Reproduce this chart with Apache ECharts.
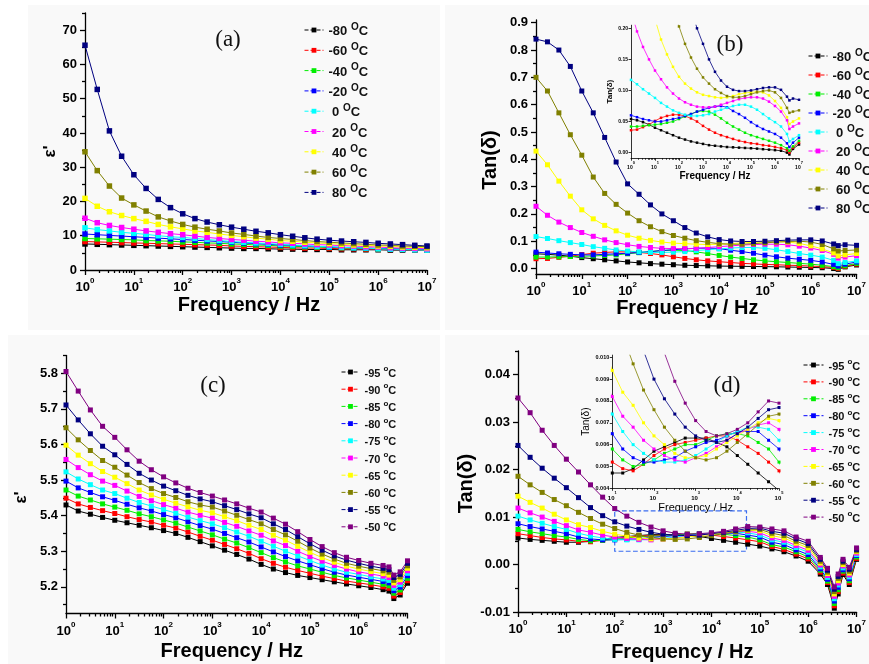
<!DOCTYPE html>
<html><head><meta charset="utf-8">
<script src="https://cdn.jsdelivr.net/npm/echarts@6/dist/echarts.min.js"></script>
<style>html,body{margin:0;padding:0;background:#fff}#c{width:869px;height:664px}</style>
</head><body><div id="c"></div>
<script>
// ---------- frequencies (Hz) ----------
const FREQ_A = [1,1.78,3.16,5.62,10,17.8,31.6,56.2,100,178,316,562,1000,1780,3160,5620,10000,17800,31600,56200,100000,178000,316000,562000,1000000,1780000,3160000,5620000,10000000];
const FREQ_B = [1,1.78,3.16,5.62,10,17.8,31.6,56.2,100,178,316,562,1000,1780,3160,5620,10000,17800,31600,56200,100000,178000,316000,562000,1000000,1780000,3160000,3980000,5620000,10000000];
const FREQ_C = [1,1.78,3.16,5.62,10,17.8,31.6,56.2,100,178,316,562,1000,1780,3160,5620,10000,17800,31600,56200,100000,178000,316000,562000,1000000,1780000,3160000,4170000,5250000,7080000,10000000];
const FREQ_D = [1,1.78,3.16,5.62,10,17.8,31.6,56.2,100,178,316,562,1000,1780,3160,5620,10000,17800,31600,56200,100000,178000,316000,562000,1000000,1780000,2510000,3470000,4170000,5250000,7080000,10000000];

// ---------- legends / colours ----------
const TEMPS_AB = ['-80','-60','-40','-20','0','20','40','60','80'];
const TEMPS_CD = ['-95','-90','-85','-80','-75','-70','-65','-60','-55','-50'];
const COLORS = ['#000000','#ff0000','#00ee00','#0000ff','#00ffff','#ff00ff','#ffff00','#808000','#000080','#800080'];

// ---------- panel (a): epsilon' ----------
const A_m80 = [7.6,7.5,7.4,7.3,7.2,7.1,7.0,6.9,6.8,6.7,6.6,6.5,6.4,6.3,6.3,6.2,6.1,6.1,6.0,6.0,6.0,5.9,5.9,5.9,5.9,5.8,5.8,5.8,5.8];
const A_m60 = [8.3,8.2,8.1,8.0,7.9,7.8,7.7,7.6,7.5,7.4,7.3,7.2,7.0,6.9,6.8,6.7,6.6,6.5,6.4,6.4,6.3,6.2,6.2,6.1,6.1,6.0,6.0,5.9,5.9];
const A_m40 = [9.2,9.1,9.0,8.9,8.8,8.6,8.5,8.4,8.2,8.1,7.9,7.8,7.6,7.5,7.3,7.2,7.0,6.9,6.8,6.7,6.6,6.5,6.4,6.3,6.2,6.1,6.1,6.0,6.0];
const A_m20 = [10.5,10.3,10.1,9.9,9.7,9.5,9.3,9.1,8.9,8.7,8.5,8.3,8.1,7.9,7.7,7.5,7.3,7.2,7.0,6.9,6.7,6.6,6.5,6.4,6.3,6.2,6.1,6.0,6.0];
const A_0   = [12.3,11.8,11.4,11.0,10.7,10.4,10.0,9.7,9.5,9.2,8.9,8.6,8.3,8.1,7.9,7.7,7.5,7.3,7.1,6.9,6.8,6.6,6.5,6.4,6.2,6.1,6.0,5.9,5.8];
const A_20  = [15.1,13.8,13.0,12.4,11.9,11.4,11.0,10.6,10.3,9.9,9.5,9.2,8.9,8.7,8.4,8.2,7.9,7.8,7.6,7.4,7.3,7.1,7.0,6.8,6.7,6.5,6.4,6.3,6.2];
const A_40  = [20.9,18.6,17.0,15.9,15.0,14.2,13.3,12.6,12.0,11.4,11.0,10.5,10.1,9.7,9.3,9.0,8.6,8.4,8.1,7.9,7.7,7.5,7.3,7.2,7.0,6.9,6.7,6.6,6.5];
const A_60  = [34.5,29.0,24.5,21.0,19.0,17.2,15.5,14.3,13.3,12.5,11.9,11.4,10.8,10.4,9.9,9.5,9.2,8.9,8.6,8.3,8.1,7.9,7.7,7.5,7.3,7.2,7.0,6.9,6.8];
const A_80  = [65.6,52.7,40.6,33.2,27.8,23.8,20.6,18.2,16.4,15.0,14.0,13.2,12.5,11.9,11.3,10.85,10.3,9.85,9.4,9.0,8.7,8.45,8.25,8.05,7.8,7.6,7.4,7.2,7.0];

// ---------- panel (b): tan(delta) ----------
const B_m80 = [0.054,0.052,0.049,0.045,0.040,0.036,0.032,0.028,0.024,0.021,0.018,0.016,0.014,0.012,0.011,0.010,0.009,0.0085,0.008,0.0075,0.007,0.0064,0.0055,0.0048,0.004,0.003,0.000,-0.003,0.006,0.013];
const B_m60 = [0.036,0.037,0.041,0.045,0.051,0.056,0.059,0.061,0.061,0.059,0.055,0.050,0.043,0.037,0.032,0.028,0.025,0.022,0.019,0.017,0.015,0.014,0.012,0.011,0.009,0.007,0.004,0.000,0.008,0.016];
const B_m40 = [0.042,0.042,0.043,0.044,0.045,0.046,0.048,0.050,0.054,0.058,0.062,0.066,0.067,0.066,0.061,0.055,0.048,0.042,0.037,0.032,0.028,0.025,0.022,0.019,0.016,0.012,0.007,0.003,0.010,0.019];
const B_m20 = [0.060,0.057,0.054,0.052,0.050,0.050,0.052,0.054,0.056,0.059,0.062,0.066,0.069,0.072,0.074,0.075,0.073,0.067,0.062,0.056,0.049,0.043,0.038,0.034,0.030,0.024,0.015,0.009,0.016,0.024];
const B_0   = [0.117,0.110,0.102,0.095,0.088,0.080,0.074,0.068,0.064,0.061,0.059,0.059,0.060,0.062,0.066,0.069,0.072,0.075,0.077,0.077,0.074,0.069,0.062,0.055,0.049,0.042,0.030,0.018,0.022,0.028];
const B_20  = [0.228,0.195,0.170,0.150,0.132,0.118,0.105,0.095,0.087,0.081,0.077,0.074,0.073,0.073,0.074,0.077,0.080,0.083,0.086,0.088,0.089,0.089,0.087,0.082,0.075,0.066,0.052,0.038,0.042,0.047];
const B_40  = [0.43,0.38,0.32,0.265,0.215,0.182,0.158,0.138,0.122,0.111,0.103,0.097,0.093,0.091,0.089,0.088,0.089,0.091,0.094,0.096,0.097,0.098,0.097,0.092,0.083,0.072,0.057,0.046,0.050,0.055];
const B_60  = [0.70,0.65,0.57,0.49,0.415,0.335,0.275,0.235,0.203,0.175,0.153,0.135,0.121,0.111,0.102,0.096,0.091,0.089,0.089,0.091,0.094,0.097,0.099,0.100,0.097,0.088,0.072,0.064,0.066,0.068];
const B_80  = [0.84,0.83,0.80,0.74,0.65,0.57,0.48,0.39,0.31,0.272,0.233,0.200,0.175,0.150,0.130,0.116,0.106,0.101,0.099,0.099,0.100,0.102,0.104,0.105,0.105,0.101,0.090,0.084,0.087,0.085];

// ---------- panel (c): epsilon' ----------
const C_m95 = [5.430,5.413,5.404,5.395,5.387,5.380,5.373,5.366,5.358,5.350,5.339,5.327,5.315,5.303,5.291,5.278,5.263,5.250,5.240,5.232,5.226,5.220,5.214,5.208,5.203,5.198,5.192,5.188,5.167,5.177,5.210];
const C_m90 = [5.449,5.433,5.423,5.414,5.406,5.397,5.389,5.382,5.373,5.365,5.354,5.342,5.331,5.319,5.307,5.294,5.279,5.266,5.255,5.246,5.238,5.230,5.223,5.216,5.211,5.206,5.200,5.196,5.174,5.184,5.217];
const C_m85 = [5.472,5.455,5.444,5.433,5.424,5.415,5.405,5.397,5.388,5.379,5.368,5.357,5.346,5.334,5.323,5.310,5.296,5.282,5.270,5.259,5.250,5.241,5.232,5.225,5.219,5.213,5.207,5.203,5.182,5.191,5.224];
const C_m80 = [5.497,5.478,5.465,5.453,5.443,5.432,5.422,5.413,5.403,5.394,5.383,5.372,5.362,5.350,5.338,5.326,5.312,5.298,5.285,5.273,5.262,5.251,5.241,5.233,5.227,5.221,5.215,5.211,5.189,5.199,5.231];
const C_m75 = [5.523,5.503,5.487,5.472,5.462,5.449,5.437,5.427,5.417,5.407,5.396,5.386,5.377,5.366,5.354,5.342,5.328,5.314,5.300,5.287,5.274,5.261,5.250,5.241,5.235,5.228,5.222,5.218,5.196,5.206,5.238];
const C_m70 = [5.558,5.535,5.515,5.497,5.485,5.469,5.454,5.442,5.431,5.421,5.410,5.401,5.393,5.381,5.370,5.357,5.345,5.329,5.316,5.300,5.285,5.272,5.260,5.250,5.242,5.236,5.230,5.226,5.204,5.213,5.245];
const C_m65 = [5.598,5.570,5.546,5.524,5.508,5.490,5.472,5.458,5.446,5.435,5.425,5.415,5.408,5.397,5.386,5.373,5.361,5.345,5.331,5.314,5.297,5.282,5.269,5.258,5.250,5.243,5.237,5.233,5.211,5.220,5.252];
const C_m60 = [5.647,5.613,5.583,5.555,5.536,5.514,5.493,5.476,5.462,5.451,5.439,5.430,5.424,5.413,5.401,5.389,5.377,5.361,5.346,5.328,5.309,5.292,5.278,5.266,5.258,5.251,5.245,5.241,5.218,5.228,5.259];
const C_m55 = [5.711,5.669,5.630,5.595,5.571,5.544,5.519,5.500,5.483,5.470,5.457,5.447,5.439,5.428,5.417,5.405,5.394,5.377,5.361,5.341,5.321,5.303,5.287,5.275,5.266,5.258,5.252,5.248,5.226,5.235,5.266];
const C_m50 = [5.805,5.750,5.697,5.651,5.620,5.585,5.553,5.529,5.509,5.492,5.477,5.465,5.455,5.444,5.433,5.421,5.410,5.393,5.376,5.355,5.333,5.313,5.296,5.283,5.274,5.266,5.260,5.256,5.233,5.242,5.273];

// ---------- panel (d): tan(delta) ----------
const D_m95 = [0.0056,0.0053,0.0051,0.0049,0.0047,0.0047,0.0049,0.0053,0.0057,0.0059,0.0061,0.0063,0.0063,0.0063,0.0061,0.0059,0.0055,0.0051,0.0047,0.0043,0.0039,0.0033,0.0027,0.0018,0.0007,-0.0020,-0.0042,-0.0092,-0.0062,-0.0021,-0.0042,0.0011];
const D_m90 = [0.0065,0.0061,0.0057,0.0054,0.0052,0.0049,0.0048,0.0051,0.0055,0.0058,0.0060,0.0061,0.0062,0.0063,0.0064,0.0064,0.0062,0.0059,0.0056,0.0052,0.0048,0.0038,0.0032,0.0022,0.0012,-0.0016,-0.0038,-0.0087,-0.0057,-0.0018,-0.0038,0.0013];
const D_m85 = [0.0074,0.0069,0.0065,0.0061,0.0058,0.0053,0.0050,0.0051,0.0053,0.0056,0.0058,0.0060,0.0060,0.0062,0.0064,0.0065,0.0065,0.0064,0.0061,0.0058,0.0052,0.0042,0.0037,0.0027,0.0016,-0.0012,-0.0035,-0.0082,-0.0053,-0.0014,-0.0034,0.0016];
const D_m80 = [0.0086,0.0080,0.0075,0.0070,0.0065,0.0058,0.0054,0.0052,0.0052,0.0053,0.0054,0.0057,0.0059,0.0061,0.0062,0.0064,0.0066,0.0066,0.0066,0.0062,0.0058,0.0047,0.0042,0.0031,0.0021,-0.0009,-0.0031,-0.0077,-0.0048,-0.0011,-0.0030,0.0019];
const D_m75 = [0.0102,0.0094,0.0087,0.0080,0.0074,0.0066,0.0060,0.0056,0.0053,0.0052,0.0052,0.0053,0.0055,0.0058,0.0061,0.0064,0.0066,0.0068,0.0068,0.0067,0.0062,0.0052,0.0047,0.0036,0.0026,-0.0005,-0.0027,-0.0072,-0.0043,-0.0007,-0.0026,0.0021];
const D_m70 = [0.0119,0.0109,0.0100,0.0091,0.0082,0.0073,0.0068,0.0062,0.0058,0.0055,0.0053,0.0052,0.0054,0.0056,0.0059,0.0062,0.0065,0.0067,0.0069,0.0070,0.0067,0.0056,0.0051,0.0040,0.0030,-0.0001,-0.0023,-0.0067,-0.0039,-0.0003,-0.0022,0.0024];
const D_m65 = [0.0144,0.0131,0.0119,0.0106,0.0094,0.0084,0.0078,0.0070,0.0064,0.0060,0.0056,0.0054,0.0054,0.0055,0.0058,0.0061,0.0064,0.0067,0.0070,0.0072,0.0071,0.0061,0.0056,0.0045,0.0035,0.0003,-0.0019,-0.0062,-0.0034,0.0000,-0.0018,0.0027];
const D_m60 = [0.0186,0.0168,0.0152,0.0137,0.0124,0.0110,0.0097,0.0085,0.0076,0.0068,0.0062,0.0057,0.0054,0.0053,0.0054,0.0057,0.0061,0.0065,0.0069,0.0073,0.0074,0.0066,0.0061,0.0049,0.0040,0.0007,-0.0016,-0.0057,-0.0029,0.0004,-0.0014,0.0029];
const D_m55 = [0.0251,0.0226,0.0203,0.0182,0.0162,0.0141,0.0120,0.0103,0.0090,0.0081,0.0074,0.0068,0.0064,0.0062,0.0061,0.0062,0.0065,0.0068,0.0072,0.0076,0.0077,0.0070,0.0066,0.0054,0.0044,0.0011,-0.0012,-0.0052,-0.0025,0.0007,-0.0010,0.0032];
const D_m50 = [0.0351,0.0320,0.0283,0.0251,0.0222,0.0195,0.0168,0.0142,0.0118,0.0102,0.0089,0.0079,0.0071,0.0066,0.0064,0.0065,0.0067,0.0070,0.0075,0.0080,0.0079,0.0075,0.0071,0.0058,0.0049,0.0015,-0.0008,-0.0047,-0.0020,0.0011,-0.0006,0.0035];

// ---------- tick labels ----------
const X_MAJOR = [1,10,100,1000,10000,100000,1000000,10000000];
const X_MINOR = [];
for (const d of [1,10,100,1000,10000,100000,1000000]) for (let k = 2; k <= 9; k++) X_MINOR.push(k * d);
const YT_A = [0,10,20,30,40,50,60,70],                 YM_A = [5,15,25,35,45,55,65,75];
const YT_B = [0,0.1,0.2,0.3,0.4,0.5,0.6,0.7,0.8,0.9],  YM_B = [0.05,0.15,0.25,0.35,0.45,0.55,0.65,0.75,0.85];
const YT_C = [5.2,5.3,5.4,5.5,5.6,5.7,5.8],            YM_C = [5.15,5.25,5.35,5.45,5.55,5.65,5.75,5.85];
const YT_D = [-0.01,0,0.01,0.02,0.03,0.04],            YM_D = [-0.005,0.005,0.015,0.025,0.035,0.045];
const YT_BI = [0,0.05,0.10,0.15,0.20];
const YT_DI = [0.004,0.005,0.006,0.007,0.008,0.009,0.010];

const SERIES_A = [A_m80,A_m60,A_m40,A_m20,A_0,A_20,A_40,A_60,A_80];
const SERIES_B = [B_m80,B_m60,B_m40,B_m20,B_0,B_20,B_40,B_60,B_80];
const SERIES_C = [C_m95,C_m90,C_m85,C_m80,C_m75,C_m70,C_m65,C_m60,C_m55,C_m50];
const SERIES_D = [D_m95,D_m90,D_m85,D_m80,D_m75,D_m70,D_m65,D_m60,D_m55,D_m50];

const FONT = 'Liberation Sans';
const BLACK = '#000';

function xAxes(g, min, max, o) {
  const base = {type:'log', logBase:10, gridIndex:g, min:min, max:max, position:'bottom'};
  return [
    Object.assign({}, base, {
      axisLine:{show:true, onZero:false, lineStyle:{color:BLACK, width:o.lw}},
      axisTick:{show:true, customValues:X_MAJOR, length:o.tl, lineStyle:{color:BLACK, width:o.lw}},
      axisLabel:{customValues:X_MAJOR, margin:o.lm, color:BLACK,
        formatter: v => '{b|10}{s|' + Math.round(Math.log10(v)) + '}',
        rich:{b:{fontSize:o.fs, fontWeight:'bold', fontFamily:FONT, color:BLACK, lineHeight:o.fs+4, verticalAlign:'bottom'},
              s:{fontSize:o.ss, fontWeight:'bold', fontFamily:FONT, color:BLACK, lineHeight:o.ss, verticalAlign:'top'}}},
      splitLine:{show:false},
      name:o.name, nameLocation:'middle', nameGap:o.gap,
      nameTextStyle:{fontSize:o.nfs, fontWeight:o.nfw || 'bold', fontFamily:FONT, color:BLACK, padding:o.npad || 0}
    }),
    Object.assign({}, base, {
      axisLine:{show:false, onZero:false}, axisLabel:{show:false}, splitLine:{show:false},
      axisTick:{show:true, customValues:X_MINOR, length:o.mtl, lineStyle:{color:BLACK, width:o.lw}}
    })
  ];
}
function yAxes(g, min, max, ticks, minor, o) {
  const base = {type:'value', gridIndex:g, min:min, max:max, position:'left'};
  return [
    Object.assign({}, base, {
      axisLine:{show:true, onZero:false, lineStyle:{color:BLACK, width:o.lw}},
      axisTick:{show:true, customValues:ticks, length:o.tl, lineStyle:{color:BLACK, width:o.lw}},
      axisLabel:{customValues:ticks, margin:o.lm, color:BLACK, fontSize:o.fs, fontWeight:'bold', fontFamily:FONT, formatter:o.fmt},
      splitLine:{show:false},
      name:o.name, nameLocation:'middle', nameRotate:90, nameGap:o.gap,
      nameTextStyle:{fontSize:o.nfs, fontWeight:o.nfw || 'bold', fontFamily:FONT, color:BLACK, padding:o.npad || 0}
    }),
    Object.assign({}, base, {
      axisLine:{show:false, onZero:false}, axisLabel:{show:false}, splitLine:{show:false},
      axisTick:{show:true, customValues:minor, length:o.mtl, lineStyle:{color:BLACK, width:o.lw}}
    })
  ];
}

const grid = [
  {left:85,    top:13,    width:342,   height:257},    // a
  {left:536,   top:20,    width:328,   height:254},    // b
  {left:66,    top:355.5, width:341.5, height:258},    // c
  {left:518,   top:351,   width:343,   height:261},    // d
  {left:631,   top:25.2,  width:168,   height:133},    // b inset
  {left:612.3, top:355.1, width:166.7, height:133.2}   // d inset
];

const xAxis = [].concat(
  xAxes(0, 1, 1e7, {lw:1.3, tl:5, mtl:3, lm:7, fs:13, ss:8, name:'Frequency / Hz', gap:25, nfs:20, npad:[0,14,0,0]}),
  xAxes(1, 1, 1e7, {lw:1.3, tl:5, mtl:3, lm:7, fs:13, ss:8, name:'Frequency / Hz', gap:19, nfs:20, npad:[0,18,0,0]}),
  xAxes(2, 1, 1e7, {lw:1.3, tl:5, mtl:3, lm:7, fs:13, ss:8, name:'Frequency / Hz', gap:28, nfs:20, npad:[0,10,0,0]}),
  xAxes(3, 1, 1e7, {lw:1.3, tl:5, mtl:3, lm:7, fs:13, ss:8, name:'Frequency / Hz', gap:30, nfs:20, npad:[0,10,0,0]}),
  xAxes(4, 1, 1e7, {lw:0.8, tl:2.5, mtl:1.5, lm:3, fs:5, ss:4, name:'Frequency / Hz', gap:10, nfs:10}),
  xAxes(5, 10, 1e5, {lw:0.8, tl:2.5, mtl:1.5, lm:3, fs:6, ss:4, name:'Frequency / Hz', gap:9, nfs:11, nfw:'normal'})
);
const yAxis = [].concat(
  yAxes(0, 0, 75, YT_A, YM_A, {lw:1.3, tl:5, mtl:3, lm:8, fs:13, fmt:v => String(v), name:"ε'", gap:24, nfs:17, npad:[0,20,0,0]}),
  yAxes(1, -0.02, 0.91, YT_B, YM_B, {lw:1.3, tl:5, mtl:3, lm:8, fs:13, fmt:v => v.toFixed(1), name:'Tan(δ)', gap:36, nfs:20, npad:[0,26,0,0]}),
  yAxes(2, 5.125, 5.85, YT_C, YM_C, {lw:1.3, tl:5, mtl:3, lm:8, fs:13, fmt:v => v.toFixed(1), name:"ε'", gap:36, nfs:17, npad:[0,26,0,0]}),
  yAxes(3, -0.01, 0.045, YT_D, YM_D, {lw:1.3, tl:5, mtl:3, lm:8, fs:13, fmt:v => v.toFixed(2), name:'Tan(δ)', gap:41, nfs:20, npad:[0,4,0,0]}),
  yAxes(4, -0.009, 0.205, YT_BI, [], {lw:0.8, tl:2.5, mtl:1.5, lm:3, fs:5, fmt:v => v.toFixed(2), name:'Tan(δ)', gap:17, nfs:8}),
  yAxes(5, 0.004, 0.0101, YT_DI, [], {lw:0.8, tl:2.5, mtl:1.5, lm:3, fs:5.5, fmt:v => v.toFixed(3), name:'Tan(δ)', gap:20, nfs:10, nfw:'normal'})
);

const pairs = (F, V) => F.map((f, i) => [f, V[i]]);
const series = [];
function addPanel(prefix, temps, F, sets, g, size, width) {
  sets.forEach((V, i) => {
    series.push({
      type:'line', name:prefix + temps[i], xAxisIndex:2*g, yAxisIndex:2*g,
      data:pairs(F, V), symbol:'rect', symbolSize:size, showSymbol:true, showAllSymbol:true,
      lineStyle:{color:COLORS[i], width:width}, itemStyle:{color:COLORS[i]},
      emphasis:{disabled:true}, animation:false, clip:true
    });
  });
}
addPanel('A', TEMPS_AB, FREQ_A, SERIES_A, 0, 5.5, 1);
addPanel('B', TEMPS_AB, FREQ_B, SERIES_B, 1, 5, 1);
addPanel('C', TEMPS_CD, FREQ_C, SERIES_C, 2, 5, 1);
addPanel('D', TEMPS_CD, FREQ_D, SERIES_D, 3, 5, 1);
addPanel('B', TEMPS_AB, FREQ_B, SERIES_B, 4, 2.5, 0.8);
addPanel('D', TEMPS_CD, FREQ_D, SERIES_D, 5, 3, 0.8);

// dashed zoom box in (d)
series.push({
  type:'line', name:'box', xAxisIndex:6, yAxisIndex:6, data:[], silent:true,
  markArea:{silent:true, itemStyle:{color:'rgba(0,0,0,0)', borderColor:'#3a6cf0', borderWidth:1.2, borderType:'dashed'},
    data:[[{coord:[100, 0.0113]}, {coord:[53000, 0.0028]}]]}
});

function legend(prefix, temps, left, top, gap, fs, os, oChar, w) {
  return {
    orient:'vertical', left:left, top:top, itemGap:gap, itemWidth:w, itemHeight:6,
    data:temps.map(t => prefix + t), selectedMode:false,
    lineStyle:{type:'dashed', width:1},
    formatter: n => { const t = n.slice(1); const lab = t.charAt(0) === '-' ? t : ' ' + t;
      return '{t|' + lab + ' }{o|' + oChar + '}{t|C}'; },
    textStyle:{rich:{
      t:{fontSize:fs, fontWeight:'bold', fontFamily:FONT, color:'#111', lineHeight:fs+3, verticalAlign:'bottom'},
      o:{fontSize:os, fontWeight:'bold', fontFamily:FONT, color:'#111', lineHeight:os, verticalAlign:'top'}}}
  };
}

const option = {
  animation:false,
  backgroundColor:'#ffffff',
  grid:grid, xAxis:xAxis, yAxis:yAxis, series:series,
  legend:[
    legend('A', TEMPS_AB, 299, 17, 4.3, 13, 10, 'O', 19),
    legend('B', TEMPS_AB, 803, 43, 3, 13, 10, 'O', 19),
    legend('C', TEMPS_CD, 336, 360, 3.2, 11, 8, 'o', 18),
    legend('D', TEMPS_CD, 798, 353, 2.9, 11, 8, 'o', 20)
  ],
  graphic:[
    {type:'rect', z:-10, shape:{x:28, y:5, width:412, height:325}, style:{fill:'#f9f9f9'}},
    {type:'rect', z:-10, shape:{x:445, y:5, width:424, height:325}, style:{fill:'#f9f9f9'}},
    {type:'rect', z:-10, shape:{x:8, y:335, width:432, height:329}, style:{fill:'#f9f9f9'}},
    {type:'rect', z:-10, shape:{x:445, y:335, width:424, height:329}, style:{fill:'#f9f9f9'}},
    {type:'text', x:228, y:40, style:{text:'(a)', font:'23px "Liberation Serif"', fill:'#111', align:'center', verticalAlign:'middle'}},
    {type:'text', x:730, y:45, style:{text:'(b)', font:'23px "Liberation Serif"', fill:'#111', align:'center', verticalAlign:'middle'}},
    {type:'text', x:213, y:386, style:{text:'(c)', font:'23px "Liberation Serif"', fill:'#111', align:'center', verticalAlign:'middle'}},
    {type:'text', x:727, y:386, style:{text:'(d)', font:'23px "Liberation Serif"', fill:'#111', align:'center', verticalAlign:'middle'}}
  ]
};
const chart = echarts.init(document.getElementById('c'), null, {renderer:'canvas', width:869, height:664});
chart.setOption(option);
</script>
</body></html>
